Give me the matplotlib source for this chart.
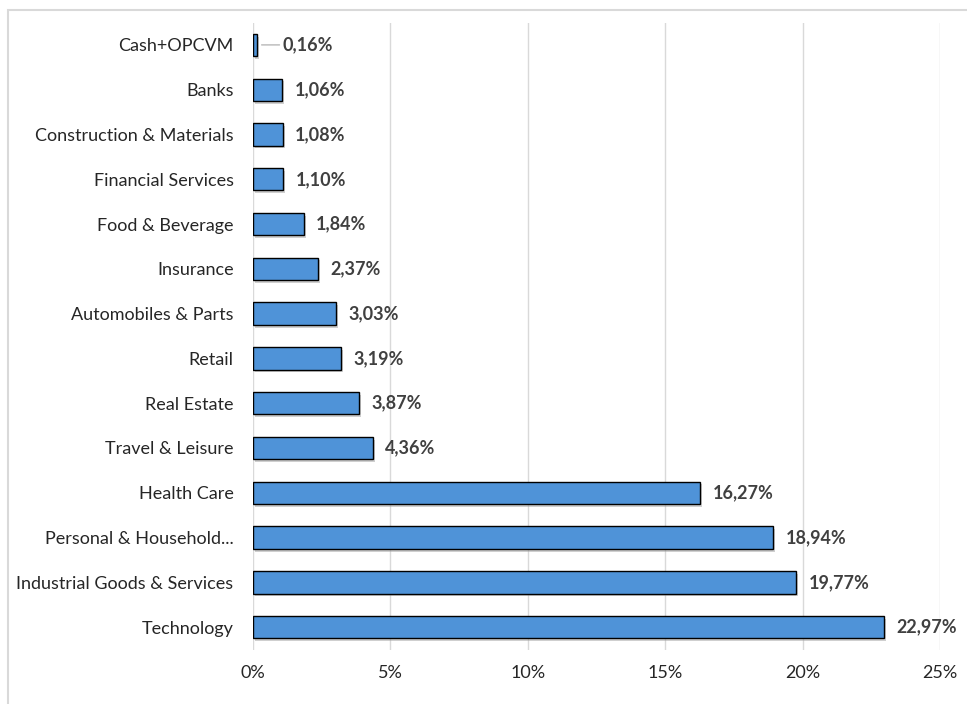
import matplotlib.pyplot as plt
import matplotlib.patheffects as pe
from matplotlib.patches import Rectangle
from matplotlib.ticker import FuncFormatter

plt.rcParams['font.family'] = ['Lato', 'DejaVu Sans']

# sector weights (%), top to bottom
sectors = ['Cash+OPCVM', 'Banks', 'Construction & Materials', 'Financial Services',
           'Food & Beverage', 'Insurance', 'Automobiles & Parts', 'Retail',
           'Real Estate', 'Travel & Leisure', 'Health Care', 'Personal & Household...',
           'Industrial Goods & Services', 'Technology']
weights = [0.16, 1.06, 1.08, 1.10, 1.84, 2.37, 3.03, 3.19, 3.87, 4.36,
           16.27, 18.94, 19.77, 22.97]
xticks = [0, 5, 10, 15, 20, 25]

fig = plt.figure(figsize=(9.67, 7.04), dpi=100)
# light outer frame around the chart area
fig.patches.append(Rectangle((8 / 967, -0.05), 1.1, 1.05 - 10 / 704, transform=fig.transFigure,
                             fill=False, edgecolor='#d9d9d9', linewidth=1.5))
ax = fig.add_axes([0.2616, 0.0774, 0.972 - 0.2616, 0.968 - 0.0774])

ypos = list(range(len(sectors)))
bars = ax.barh(ypos, weights, height=0.5, color='#4f93d8', edgecolor='black', linewidth=1.0, zorder=3)
for b in bars:
    b.set_path_effects([pe.SimplePatchShadow(offset=(1.5, -2), shadow_rgbFace='#a0a0a0', alpha=0.5), pe.Normal()])

fs = 13
for y, v in zip(ypos, weights):
    txt = f'{v:.2f}%'.replace('.', ',')
    if v < 0.5:
        ax.annotate(txt, xy=(v, y), xytext=(18, 0), textcoords='offset points',
                    ha='left', va='center', fontsize=fs, fontweight='bold', color='#404040',
                    arrowprops=dict(arrowstyle='-', color='#a6a6a6', lw=0.8, shrinkA=0, shrinkB=3))
    else:
        ax.annotate(txt, xy=(v, y), xytext=(9, 0), textcoords='offset points',
                    ha='left', va='center', fontsize=fs, fontweight='bold', color='#404040')

ax.set_yticks(ypos)
ax.set_yticklabels(sectors, fontsize=fs, color='#262626')
ax.set_ylim(len(sectors) - 0.5, -0.5)
ax.set_xlim(0, 25)
ax.set_xticks(xticks)
ax.xaxis.set_major_formatter(FuncFormatter(lambda x, p: f'{x:.0f}%'))
ax.tick_params(axis='x', length=0, pad=11, labelsize=fs, labelcolor='#262626')
ax.tick_params(axis='y', length=0, pad=14)
ax.grid(axis='x', color='#d9d9d9', linewidth=1.0, zorder=0)
for s in ax.spines.values():
    s.set_visible(False)

fig.savefig('out.png', dpi=100)
